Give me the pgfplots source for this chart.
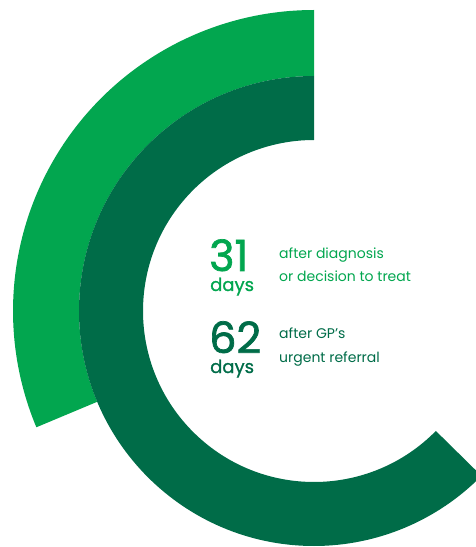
\documentclass[border=0pt]{standalone}
\usepackage{pgfplots}
\pgfplotsset{compat=1.18}
\usepackage{pgfplotstable}
\usepackage{fontspec}
\setmainfont{Poppins}
\newfontfamily\numfont[FakeBold=1.6]{Poppins}
\newfontfamily\dayfont[FakeBold=1.0]{Poppins}
\definecolor{lightgrn}{HTML}{02A64F}
\definecolor{darkgrn}{HTML}{006C48}

% days, inner and outer radius of each ring (1 unit = 1 px)
\pgfplotstableread{
ring days rin rout
gp   62   171 235
diag 31   235 301
}\ringdata

\newcommand\ring[2]{% row, colour
  \pgfplotstablegetelem{#1}{days}\of\ringdata \let\dd\pgfplotsretval
  \pgfplotstablegetelem{#1}{rin}\of\ringdata \let\ri\pgfplotsretval
  \pgfplotstablegetelem{#1}{rout}\of\ringdata \let\ro\pgfplotsretval
  \pgfmathsetmacro{\ee}{90+\dd/99*360}
  \edef\temp{\noexpand\fill[#2] ([shift={(90:\ro pt)}]axis cs:314,236)
    arc[start angle=90, end angle=\ee, radius=\ro pt]
    -- ([shift={(\ee:\ri pt)}]axis cs:314,236)
    arc[start angle=\ee, end angle=90, radius=\ri pt] -- cycle;}%
  \temp
}

\begin{document}
\begin{tikzpicture}
\begin{axis}[
    x=1pt, y=1pt,
    xmin=0, xmax=476, ymin=0, ymax=547,
    hide axis,
    clip=true,
]
\ring{1}{lightgrn}
\ring{0}{darkgrn}

\node[anchor=base west, text=lightgrn, font=\numfont\fontsize{43}{43}\selectfont, inner sep=0pt] at (axis cs:209,276) {31};
\node[anchor=base west, text=lightgrn, font=\dayfont\fontsize{18}{18}\selectfont, inner sep=0pt] at (axis cs:210,256) {days};
\node[anchor=base west, text=lightgrn, font=\fontsize{14}{14}\selectfont, inner sep=0pt] at (axis cs:279,288) {after diagnosis};
\node[anchor=base west, text=lightgrn, font=\fontsize{14}{14}\selectfont, inner sep=0pt] at (axis cs:279,265) {or decision to treat};

\node[anchor=base west, text=darkgrn, font=\numfont\fontsize{43}{43}\selectfont, inner sep=0pt] at (axis cs:209,194) {62};
\node[anchor=base west, text=darkgrn, font=\dayfont\fontsize{18}{18}\selectfont, inner sep=0pt] at (axis cs:210,174) {days};
\node[anchor=base west, text=darkgrn, font=\fontsize{14}{14}\selectfont, inner sep=0pt] at (axis cs:279,208) {after GP’s};
\node[anchor=base west, text=darkgrn, font=\fontsize{14}{14}\selectfont, inner sep=0pt] at (axis cs:279,185) {urgent referral};
\end{axis}
\pgfresetboundingbox
\path[use as bounding box] (current axis.south west) rectangle (current axis.north east);
\end{tikzpicture}
\end{document}
